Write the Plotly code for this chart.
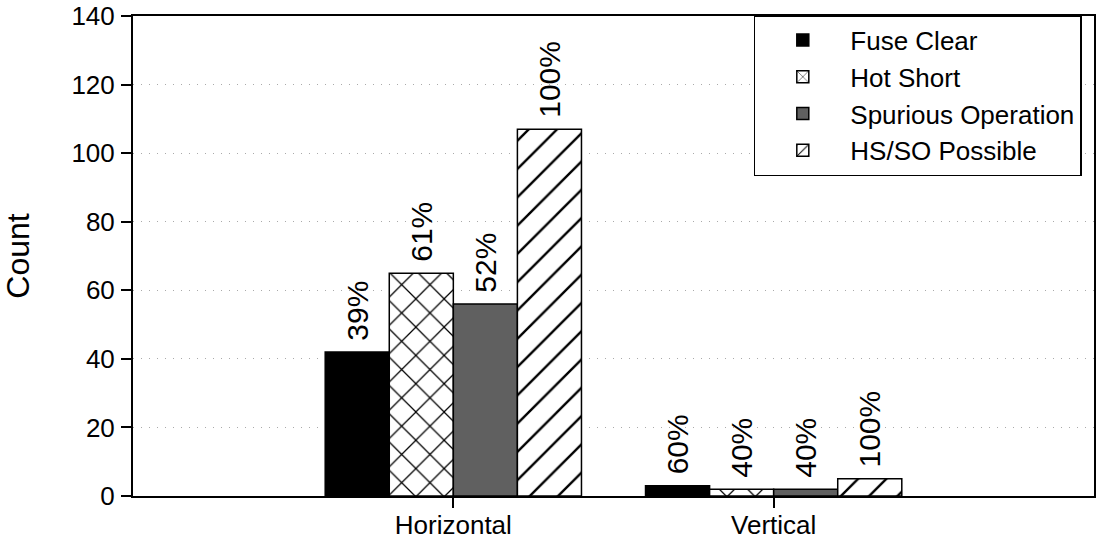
import plotly.graph_objects as go

categories = ["Horizontal", "Vertical"]
series_names = ["Fuse Clear", "Hot Short", "Spurious Operation", "HS/SO Possible"]
fuse_clear = [42, 3]
hot_short = [65, 2]
spurious_op = [56, 2]
hs_so_possible = [107, 5]
pct_labels = [
    ["39%", "60%"],
    ["61%", "40%"],
    ["52%", "40%"],
    ["100%", "100%"],
]

values = [fuse_clear, hot_short, spurious_op, hs_so_possible]
fills = ["black", "white", "#606060", "white"]
shapes = ["", "x", "", "/"]

fig = go.Figure()
for name, vals, txt, fill, shape in zip(series_names, values, pct_labels, fills, shapes):
    fig.add_trace(go.Bar(
        x=categories,
        y=vals,
        name=name,
        text=txt,
        texttemplate=" %{text}",
        textposition="outside",
        textangle=-90,
        constraintext="none",
        textfont=dict(size=30, color="black"),
        cliponaxis=False,
        marker=dict(
            color=fill,
            line=dict(color="black", width=1.5),
            pattern=dict(shape=shape, fgcolor="black", bgcolor="white",
                         size=20, solidity=0.12, fillmode="replace"),
        ),
    ))

fig.update_layout(
    width=1100,
    height=552,
    barmode="group",
    bargap=0.2,
    bargroupgap=0,
    plot_bgcolor="white",
    paper_bgcolor="white",
    font=dict(family="Liberation Sans, Arial, sans-serif", size=26, color="black"),
    margin=dict(l=133, r=6, t=16, b=56, autoexpand=False),
    legend=dict(
        x=0.646, y=1.002, xanchor="left", yanchor="top",
        bordercolor="black", borderwidth=1.5, bgcolor="white",
        font=dict(size=26),
        itemwidth=85,
        tracegroupgap=0,
    ),
    showlegend=True,
)
fig.update_xaxes(
    range=[-1, 2],
    showline=True, mirror=True, linecolor="black", linewidth=2,
    ticks="outside", ticklen=10, tickcolor="black", tickwidth=1.5,
    tickson="labels",
    ticklabelstandoff=-5,
    tickfont=dict(size=26),
    showgrid=False,
    automargin=False,
)
fig.update_yaxes(
    range=[0, 140], dtick=20,
    showline=True, mirror=True, linecolor="black", linewidth=2,
    ticks="outside", ticklen=10, tickcolor="black", tickwidth=1.5,
    ticklabelstandoff=1,
    tickfont=dict(size=26),
    showgrid=True, gridcolor="#aaaaaa", gridwidth=1, griddash="1px,7px",
    zeroline=False,
    automargin=False,
    title=dict(text="Count", font=dict(size=32), standoff=40),
)

# drop the browser's default body margin so the figure sits at the page corner
fig.write_html(
    "out.html",
    config={"displayModeBar": False},
    post_script="document.body.style.margin = '0';",
)
